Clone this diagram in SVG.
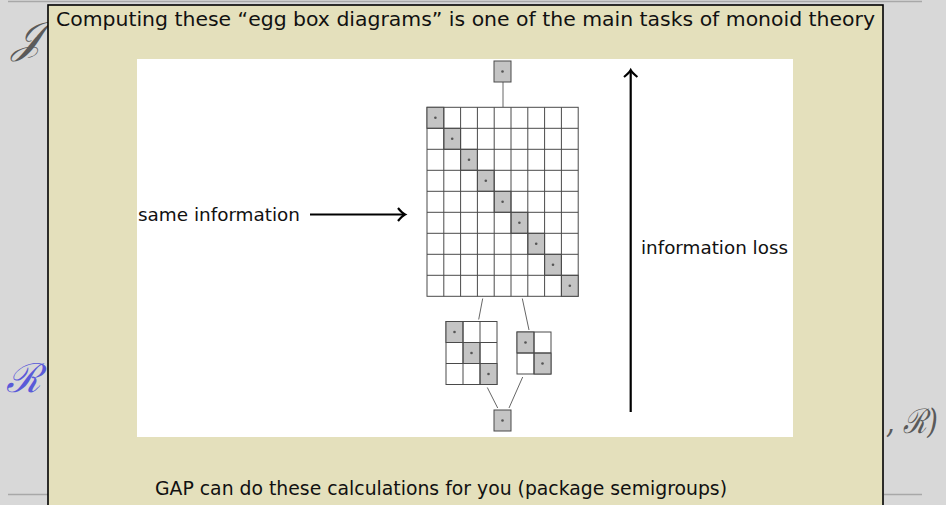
<svg xmlns="http://www.w3.org/2000/svg" width="946" height="505" viewBox="0 0 946 505">
<style>
.bg{fill:#d8d8d8}
.rule{stroke:#a8a8a8;stroke-width:1.5}
.math{font-family:"DejaVu Serif","Liberation Serif",serif;font-style:italic}
.txt{font-family:"DejaVu Sans","Liberation Sans",sans-serif;fill:#111}
.cell{fill:#fff;stroke:#4a4a4a;stroke-width:1}
.sh{fill:#c4c4c4;stroke:#4a4a4a;stroke-width:1}
.dot{fill:#555}
.conn{stroke:#666;stroke-width:1;fill:none}
.arr{stroke:#000;stroke-width:2.2;fill:none}
</style>
<rect class="bg" x="0" y="0" width="946" height="505"/>
<line class="rule" x1="8" y1="1.5" x2="922" y2="1.5"/>
<line class="rule" x1="8" y1="494.5" x2="48" y2="494.5"/>
<line class="rule" x1="884" y1="494.5" x2="922" y2="494.5"/>
<text class="math" x="12" y="52" font-size="44" fill="#5a5a5a">𝒥</text>
<text class="math" x="6" y="392" font-size="40" fill="#5a5ad8">ℛ</text>
<text class="math" x="886" y="433" font-size="34" fill="#5a5a5a" textLength="52" lengthAdjust="spacingAndGlyphs">, ℛ)</text>
<rect x="48" y="5" width="835" height="502" fill="#e4e0bc" stroke="#000" stroke-width="1.6"/>
<text class="txt" x="56" y="26" font-size="19.5" textLength="819" lengthAdjust="spacingAndGlyphs">Computing these “egg box diagrams” is one of the main tasks of monoid theory</text>
<rect x="137" y="59" width="656" height="378" fill="#fff"/>
<g id="label-same"><text class="txt" x="138" y="221" font-size="17.5" textLength="162" lengthAdjust="spacingAndGlyphs">same information</text></g>
<g id="label-loss"><text class="txt" x="641" y="254" font-size="17.5" textLength="147" lengthAdjust="spacingAndGlyphs">information loss</text></g>
<g id="connectors">
<line class="conn" x1="503" y1="82" x2="503" y2="107"/>
<line class="conn" x1="482.7" y1="298.5" x2="478.7" y2="319.5"/>
<line class="conn" x1="522.3" y1="298.5" x2="529" y2="330"/>
<line class="conn" x1="487.3" y1="387.5" x2="497.7" y2="408"/>
<line class="conn" x1="522.7" y1="377" x2="509" y2="408"/>
<line class="arr" x1="310" y1="214.5" x2="404" y2="214.5"/>
<path class="arr" d="M398,208 Q402,213 405,214.5 Q402,216 398,221"/>
<line class="arr" x1="630.7" y1="412" x2="630.7" y2="71"/>
<path class="arr" d="M624,77 Q629,73 630.7,70 Q632.4,73 637.4,77"/>
</g>
<g id="box-top">
<rect class="sh" x="494" y="61" width="17" height="21"/>
<circle class="dot" cx="502.5" cy="71.5" r="1.3"/>
</g>
<g id="box-main">
<g id="grid-cells">
<rect class="cell" x="427" y="107.3" width="151.2" height="189"/>
<rect class="sh" x="427" y="107.3" width="16.8" height="21"/>
<rect class="sh" x="443.8" y="128.3" width="16.8" height="21"/>
<rect class="sh" x="460.6" y="149.3" width="16.8" height="21"/>
<rect class="sh" x="477.4" y="170.3" width="16.8" height="21"/>
<rect class="sh" x="494.2" y="191.3" width="16.8" height="21"/>
<rect class="sh" x="511" y="212.3" width="16.8" height="21"/>
<rect class="sh" x="527.8" y="233.3" width="16.8" height="21"/>
<rect class="sh" x="544.6" y="254.3" width="16.8" height="21"/>
<rect class="sh" x="561.4" y="275.3" width="16.8" height="21"/>
</g>
<path class="conn" style="stroke:#4a4a4a" d="M443.8,107.3V296.3M460.6,107.3V296.3M477.4,107.3V296.3M494.2,107.3V296.3M511,107.3V296.3M527.8,107.3V296.3M544.6,107.3V296.3M561.4,107.3V296.3M427,128.3H578.2M427,149.3H578.2M427,170.3H578.2M427,191.3H578.2M427,212.3H578.2M427,233.3H578.2M427,254.3H578.2M427,275.3H578.2"/>
<circle class="dot" cx="435.4" cy="117.8" r="1.3"/>
<circle class="dot" cx="452.2" cy="138.8" r="1.3"/>
<circle class="dot" cx="469" cy="159.8" r="1.3"/>
<circle class="dot" cx="485.8" cy="180.8" r="1.3"/>
<circle class="dot" cx="502.6" cy="201.8" r="1.3"/>
<circle class="dot" cx="519.4" cy="222.8" r="1.3"/>
<circle class="dot" cx="536.2" cy="243.8" r="1.3"/>
<circle class="dot" cx="553" cy="264.8" r="1.3"/>
<circle class="dot" cx="569.8" cy="285.8" r="1.3"/>
</g>
<g id="box-3x3">
<rect class="cell" x="446" y="321.5" width="51" height="63"/>
<rect class="sh" x="446" y="321.5" width="17" height="21"/>
<rect class="sh" x="463" y="342.5" width="17" height="21"/>
<rect class="sh" x="480" y="363.5" width="17" height="21"/>
<path class="conn" style="stroke:#4a4a4a" d="M463,321.5V384.5M480,321.5V384.5M446,342.5H497M446,363.5H497"/>
<circle class="dot" cx="454.5" cy="332" r="1.3"/>
<circle class="dot" cx="471.5" cy="353" r="1.3"/>
<circle class="dot" cx="488.5" cy="374" r="1.3"/>
</g>
<g id="box-2x2">
<rect class="cell" x="517" y="332" width="34" height="42"/>
<rect class="sh" x="517" y="332" width="17" height="21"/>
<rect class="sh" x="534" y="353" width="17" height="21"/>
<path class="conn" style="stroke:#4a4a4a" d="M534,332V374M517,353H551"/>
<circle class="dot" cx="525.5" cy="342.5" r="1.3"/>
<circle class="dot" cx="542.5" cy="363.5" r="1.3"/>
</g>
<g id="box-bottom">
<rect class="sh" x="494" y="410" width="17" height="21"/>
<circle class="dot" cx="502.5" cy="420.5" r="1.3"/>
</g>
<text class="txt" x="155" y="495" font-size="19.5" textLength="572" lengthAdjust="spacingAndGlyphs">GAP can do these calculations for you (package semigroups)</text>
</svg>
